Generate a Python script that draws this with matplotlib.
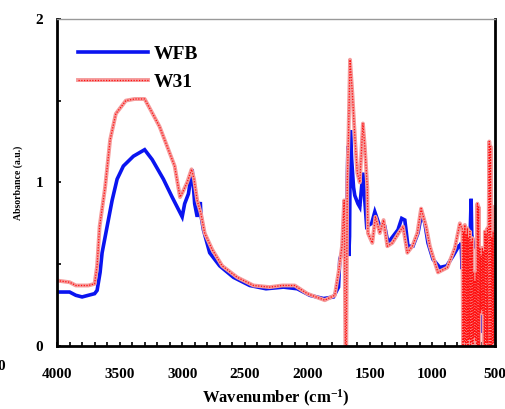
import numpy as np
import matplotlib.pyplot as plt
from matplotlib.ticker import MultipleLocator

plt.rcParams['font.family'] = ['Liberation Serif', 'DejaVu Serif']
plt.rcParams['font.weight'] = 'bold'
plt.rcParams['mathtext.fontset'] = 'custom'
plt.rcParams['mathtext.rm'] = 'Liberation Serif:bold'
plt.rcParams['mathtext.default'] = 'rm'

# WFB spectrum (blue)
wfb_wn = [4000, 3900, 3850, 3800, 3750, 3700, 3680, 3656, 3640, 3600, 3560, 3520,
          3470, 3390, 3300, 3240, 3150, 3080, 3000, 2980, 2950, 2920, 2900, 2880,
          2855, 2850, 2830, 2780, 2700, 2590, 2460, 2330, 2190, 2080, 1980, 1870,
          1790, 1750, 1740, 1715, 1685, 1675, 1668, 1662, 1655, 1645, 1630, 1620,
          1595, 1580, 1555, 1540, 1525, 1485, 1460, 1420, 1380, 1355, 1315, 1275,
          1245, 1220, 1195, 1155, 1115, 1085, 1060, 1035, 995, 940, 885, 835, 790]
wfb_abs = [0.33, 0.33, 0.31, 0.30, 0.31, 0.32, 0.34, 0.45, 0.57, 0.73, 0.89, 1.02,
           1.10, 1.16, 1.20, 1.14, 1.02, 0.91, 0.79, 0.87, 0.93, 1.08, 0.87, 0.79,
           0.88, 0.80, 0.71, 0.57, 0.49, 0.42, 0.37, 0.35, 0.36, 0.35, 0.31, 0.29,
           0.30, 0.36, 0.53, 0.59, 0.73, 1.22, 0.55, 0.67, 1.32, 1.14, 0.97, 0.92,
           0.87, 0.85, 1.06, 0.89, 0.73, 0.75, 0.82, 0.73, 0.73, 0.63, 0.67, 0.71,
           0.78, 0.77, 0.61, 0.61, 0.69, 0.81, 0.75, 0.63, 0.53, 0.48, 0.49, 0.55, 0.61]
# noisy tail below 780 cm-1
wfb_tail_wn = [780, 770, 762, 758, 750, 740, 730, 720, 700, 690, 685, 680, 670, 650,
               630, 622, 618, 610, 600, 596, 592, 580, 560, 540, 520, 505, 500]
wfb_tail_abs = [0.61, 0.63, 0.47, 0.62, 0.62, 0.60, 0.63, 0.61, 0.62, 0.90, 0.68, 0.66,
                0.62, 0.60, 0.60, 0.12, 0.60, 0.58, 0.60, 0.08, 0.55, 0.58, 0.60, 0.55,
                0.60, 0.60, 0.58]

# W31 spectrum (red)
w31_wn = [4000, 3900, 3850, 3800, 3750, 3700, 3680, 3660, 3616, 3576, 3530, 3450,
          3380, 3300, 3250, 3180, 3120, 3060, 3017, 2990, 2960, 2925, 2905, 2880,
          2850, 2820, 2760, 2680, 2560, 2430, 2300, 2200, 2100, 2000, 1860, 1780,
          1750, 1722, 1705, 1695, 1688, 1680, 1670, 1658, 1640, 1618, 1600, 1580,
          1555, 1540, 1520, 1515, 1480, 1455, 1420, 1390, 1360, 1320, 1270, 1234,
          1200, 1160, 1120, 1090, 1050, 1020, 980, 955, 880, 820, 780, 765]
w31_abs = [0.40, 0.39, 0.37, 0.37, 0.37, 0.38, 0.49, 0.73, 0.97, 1.26, 1.42, 1.50,
           1.51, 1.51, 1.44, 1.34, 1.22, 1.10, 0.91, 0.95, 1.00, 1.08, 1.02, 0.89,
           0.81, 0.69, 0.59, 0.49, 0.42, 0.37, 0.36, 0.37, 0.37, 0.32, 0.28, 0.31,
           0.45, 0.61, 0.89, 0.00, 0.00, 1.00, 1.30, 1.75, 1.55, 1.26, 1.06, 1.00,
           1.36, 1.22, 0.97, 0.69, 0.63, 0.79, 0.69, 0.77, 0.61, 0.63, 0.69, 0.73,
           0.57, 0.61, 0.69, 0.84, 0.73, 0.61, 0.51, 0.45, 0.48, 0.60, 0.75, 0.72]
w31_tail_wn = [760, 755, 750, 745, 740, 735, 730, 725, 720, 715, 710, 705, 700, 695,
               690, 685, 680, 675, 670, 665, 660, 655, 650, 645, 640, 635, 630, 625,
               620, 615, 610, 605, 600, 595, 590, 585, 580, 575, 570, 565, 560, 555,
               550, 545, 540, 535, 530, 525, 520, 515, 510, 505, 500]
w31_tail_abs = [0.72, 0.00, 0.70, 0.03, 0.74, 0.00, 0.68, 0.02, 0.72, 0.00, 0.66, 0.04,
                0.70, 0.00, 0.64, 0.02, 0.66, 0.00, 0.45, 0.05, 0.40, 0.03, 0.45, 0.00,
                0.87, 0.00, 0.85, 0.00, 0.60, 0.20, 0.55, 0.22, 0.60, 0.20, 0.58, 0.00,
                0.70, 0.00, 0.68, 0.02, 0.72, 0.00, 0.70, 1.25, 0.00, 1.22, 0.00, 0.66,
                0.00, 0.70, 0.02, 0.68, 0.85]

x_ticks = [4000, 3500, 3000, 2500, 2000, 1500, 1000, 500]

blue = '#0a14f0'
pink = '#f59a9a'
red = '#ff1010'

fig = plt.figure(figsize=(5.05, 4.09), dpi=100)
ax = fig.add_axes([0.113, 0.154, 0.867, 0.800])

wfb_x = wfb_wn + wfb_tail_wn
wfb_y = wfb_abs + wfb_tail_abs
w31_x = w31_wn + w31_tail_wn
w31_y = w31_abs + w31_tail_abs

l_b, = ax.plot(wfb_x, wfb_y, color=blue, lw=2.6, solid_joinstyle='miter')
l_p, = ax.plot(w31_x, w31_y, color=pink, lw=2.8)
l_r, = ax.plot(w31_x, w31_y, color=red, lw=0.9, ls=(0, (1, 1.2)))

ax.set_xlim(4000, 500)
ax.set_ylim(0, 2)
ax.set_xticks(x_ticks)
ax.xaxis.set_minor_locator(MultipleLocator(100))
ax.set_yticks([0, 1, 2])
ax.yaxis.set_minor_locator(MultipleLocator(0.5))
ax.tick_params(which='both', direction='in', length=3, width=1.2)
ax.tick_params(axis='x', which='major', pad=16, labelsize=11)
ax.tick_params(axis='y', which='major', pad=10, labelsize=11)

for s in ['left', 'bottom', 'right']:
    ax.spines[s].set_linewidth(2)
ax.spines['top'].set_linewidth(1)
ax.spines['top'].set_color('#999999')

ax.set_xlabel('Wavenumber (cm$^{-1}$)', fontsize=12, fontweight='bold', labelpad=4.5)
ax.set_ylabel('Absorbance (a.u.)', fontsize=7, fontweight='bold', labelpad=9)

ax.legend([l_b, (l_p, l_r)], ['WFB', 'W31'], loc='upper left',
          bbox_to_anchor=(0.047, 0.92), frameon=False,
          handlelength=3.6, handletextpad=0.3, labelspacing=0.55,
          borderpad=0, borderaxespad=0, prop={'weight': 'bold', 'size': 14})

fig.text(-0.006, 0.095, '0', fontsize=11, fontweight='bold')

fig.savefig('out.png', dpi=100)
